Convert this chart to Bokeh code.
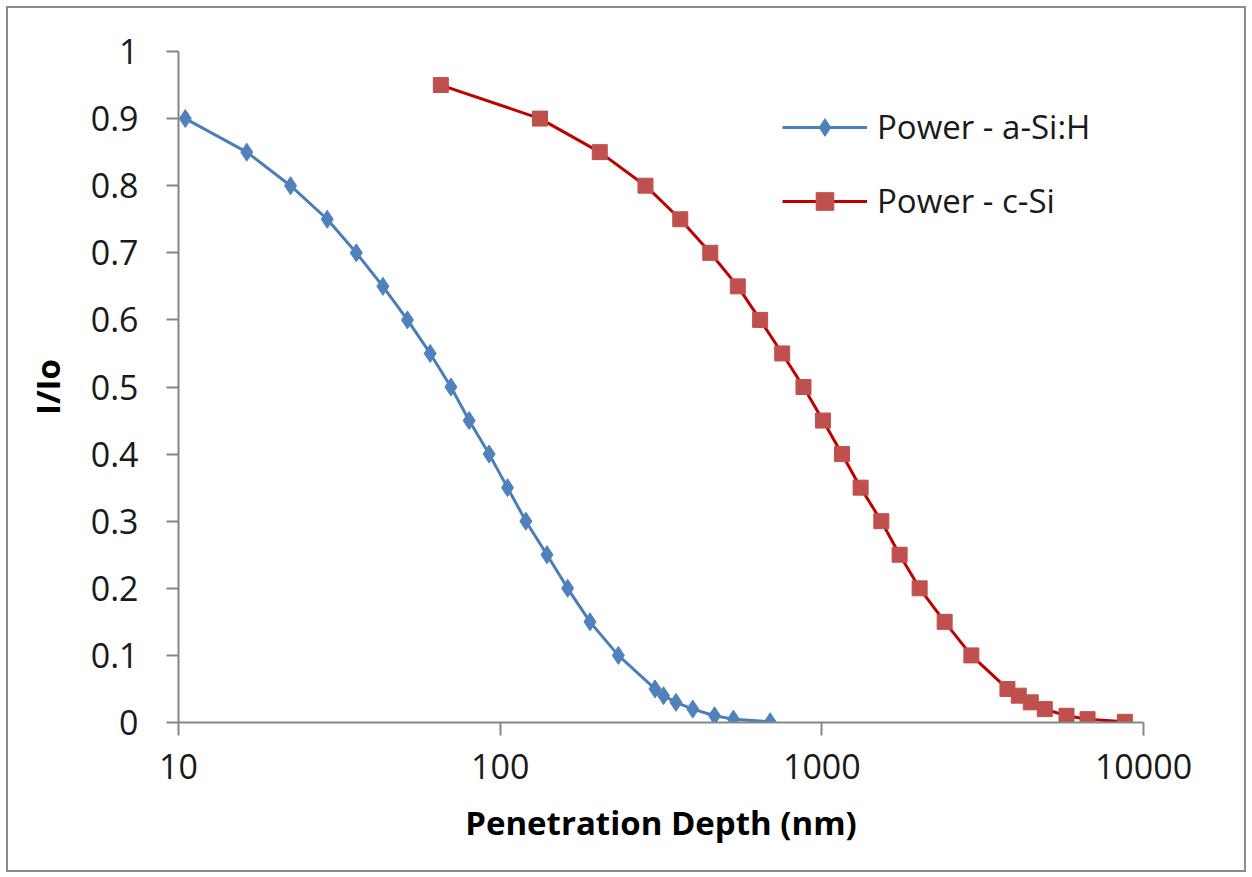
from bokeh.plotting import figure
from bokeh.models import Legend, LegendItem, FixedTicker, Range1d
from bokeh.embed import file_html
from bokeh.resources import INLINE

# ---- data ----
asi_depth = [10.5, 16.3, 22.3, 29.0, 35.7, 43.2, 51.5, 60.6, 70.3, 80.1, 92.4, 105.4,
             120.2, 139.8, 162.1, 190.2, 233, 303, 322, 352, 397, 464, 531, 691]
asi_ratio = [0.9, 0.85, 0.8, 0.75, 0.7, 0.65, 0.6, 0.55, 0.5, 0.45, 0.4, 0.35,
             0.3, 0.25, 0.2, 0.15, 0.1, 0.05, 0.04, 0.03, 0.02, 0.01, 0.005, 0.001]

csi_depth = [65.4, 133, 204, 283, 363, 450, 548, 643, 753, 877, 1008, 1155, 1320,
             1531, 1745, 2014, 2409, 2917, 3776, 4094, 4462, 4933, 5763, 6699, 8750]
csi_ratio = [0.95, 0.9, 0.85, 0.8, 0.75, 0.7, 0.65, 0.6, 0.55, 0.5, 0.45, 0.4, 0.35,
             0.3, 0.25, 0.2, 0.15, 0.1, 0.05, 0.04, 0.03, 0.02, 0.01, 0.005, 0.001]

series_names = ["Power - a-Si:H", "Power - c-Si"]
x_ticks = [10, 100, 1000, 10000]
y_ticks = [0, 0.1, 0.2, 0.3, 0.4, 0.5, 0.6, 0.7, 0.8, 0.9, 1]
x_title = "Penetration Depth (nm)"
y_title = "I/Io"

FONT = "Open Sans"
AXIS_COLOR = "#868686"

p = figure(width=1240, height=866, x_axis_type="log",
           x_range=Range1d(10, 10000), y_range=Range1d(0, 1),
           output_backend="svg", toolbar_location=None,
           min_border_left=170, min_border_right=105,
           min_border_top=43, min_border_bottom=152)
p.styles = {"margin-left": "6px", "margin-top": "6px",
            "border": "2px solid #8a8a8a"}

p.outline_line_color = None
p.background_fill_color = "white"
p.border_fill_color = "white"
p.xgrid.visible = False
p.ygrid.visible = False

# x axis
xa = p.xaxis[0]
xa.ticker = FixedTicker(ticks=x_ticks, minor_ticks=[])
xa.major_label_overrides = {t: str(t) for t in x_ticks}
xa.axis_line_color = AXIS_COLOR
xa.axis_line_width = 2
xa.major_tick_line_color = AXIS_COLOR
xa.major_tick_line_width = 2
xa.major_tick_in = 0
xa.major_tick_out = 13
xa.minor_tick_line_color = None
xa.major_label_text_font = FONT
xa.major_label_text_font_size = "34px"
xa.major_label_text_color = "#1a1a1a"
xa.major_label_standoff = 18
xa.axis_label = x_title
xa.axis_label_text_font = FONT
xa.axis_label_text_font_style = "bold"
xa.axis_label_text_font_size = "33px"
xa.axis_label_text_color = "black"
xa.axis_label_standoff = 18

# y axis
ya = p.yaxis[0]
ya.ticker = FixedTicker(ticks=y_ticks, minor_ticks=[])
ya.major_label_overrides = {0: "0", 1: "1"}
ya.axis_line_color = AXIS_COLOR
ya.axis_line_width = 2
ya.major_tick_line_color = AXIS_COLOR
ya.major_tick_line_width = 2
ya.major_tick_in = 0
ya.major_tick_out = 12
ya.minor_tick_line_color = None
ya.major_label_text_font = FONT
ya.major_label_text_font_size = "34px"
ya.major_label_text_color = "#1a1a1a"
ya.major_label_standoff = 28
ya.axis_label = y_title
ya.axis_label_text_font = FONT
ya.axis_label_text_font_style = "bold"
ya.axis_label_text_font_size = "33px"
ya.axis_label_text_color = "black"
ya.axis_label_standoff = 18

# series
BLUE = "#4A7EBB"
BLUE_M = "#4F81BD"
RED = "#C00000"
RED_M = "#C0504D"

l1 = p.line(asi_depth, asi_ratio, line_color=BLUE, line_width=3)
m1 = p.scatter(asi_depth, asi_ratio, marker="diamond", size=18,
               fill_color=BLUE_M, line_color=BLUE_M)
l2 = p.line(csi_depth, csi_ratio, line_color=RED, line_width=3)
m2 = p.scatter(csi_depth, csi_ratio, marker="square", size=15,
               fill_color=RED_M, line_color=RED_M)

legend = Legend(items=[LegendItem(label=series_names[0], renderers=[l1, m1]),
                       LegendItem(label=series_names[1], renderers=[l2, m2])],
                location=(604, 499), orientation="vertical")
legend.border_line_color = None
legend.background_fill_alpha = 0
legend.padding = 0
legend.margin = 0
legend.spacing = 29
legend.glyph_width = 85
legend.glyph_height = 44
legend.label_height = 44
legend.label_standoff = 10
legend.label_text_font = FONT
legend.label_text_font_size = "33px"
legend.label_text_color = "#1a1a1a"
legend.label_text_baseline = "middle"
p.add_layout(legend)

open("out.html", "w").write(file_html(p, INLINE))
